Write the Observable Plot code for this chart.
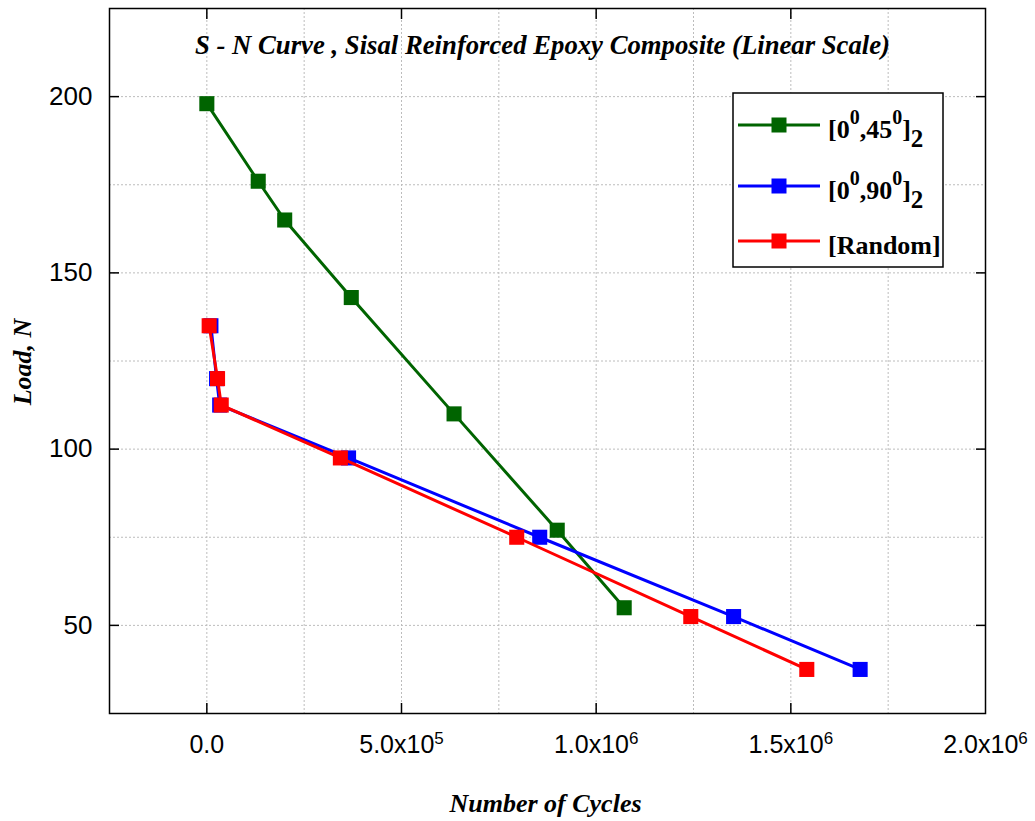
<!DOCTYPE html>
<html><head><meta charset="utf-8">
<script src="https://cdn.jsdelivr.net/npm/d3@7"></script>
<script src="https://cdn.jsdelivr.net/npm/@observablehq/plot@0.6"></script>
<style>
body{margin:0;background:#fff;}
#wrap{position:relative;width:1035px;height:821px;overflow:hidden;}
#wrap svg{overflow:visible;}
</style></head><body><div id="wrap"></div>
<script>
// ---- data ----
const seriesKeys = ["s45", "s90", "random"];
const seriesColors = ["#006400", "#0000ff", "#ff0000"];
const cycles45 = [0, 132000, 200000, 371000, 635000, 900000, 1072000];
const load45 = [198, 176, 165, 143, 110, 77, 55];
const cycles90 = [10500, 25000, 33000, 364000, 855000, 1353000, 1678000];
const load90 = [135, 120, 112.5, 97.5, 75, 52.5, 37.5];
const cyclesRandom = [6000, 27500, 37000, 343000, 796000, 1243000, 1541000];
const loadRandom = [135, 120, 112.5, 97.5, 75, 52.5, 37.5];
const xTicks = [0, 500000, 1000000, 1500000, 2000000];
const xTickLabels = ["0.0", "5.0x10^5", "1.0x10^6", "1.5x10^6", "2.0x10^6"];
const yTicks = [50, 100, 150, 200];
const xGrid = [0, 250000, 500000, 750000, 1000000, 1250000, 1500000, 1750000];
const yGrid = [50, 75, 100, 125, 150, 175, 200];
const titleText = "S - N Curve , Sisal Reinforced Epoxy Composite (Linear Scale)";
const xLabel = "Number of Cycles";
const yLabel = "Load, N";

const seriesData = [
  cycles45.map((c, i) => ({cycles: c, load: load45[i]})),
  cycles90.map((c, i) => ({cycles: c, load: load90[i]})),
  cyclesRandom.map((c, i) => ({cycles: c, load: loadRandom[i]}))
];

const serifB = "'Liberation Serif', 'Times New Roman', serif";
const gridStyle = {stroke: "#bcbcbc", strokeOpacity: 1, strokeDasharray: "2,2", strokeWidth: 1};

const seriesMarks = [];
seriesData.forEach((d, i) => {
  seriesMarks.push(Plot.line(d, {x: "cycles", y: "load", stroke: seriesColors[i], strokeWidth: 3}));
  seriesMarks.push(Plot.dot(d, {x: "cycles", y: "load", symbol: "square", r: 8.5, fill: seriesColors[i], stroke: "none"}));
});

const chart = Plot.plot({
  width: 1035, height: 821,
  marginLeft: 109, marginRight: 50, marginTop: 8, marginBottom: 108,
  x: {domain: [-250000, 2000000]},
  y: {domain: [25, 225]},
  style: {fontFamily: "'Liberation Sans', Arial, sans-serif", fontSize: "25px", color: "#000", background: "#fff"},
  marks: [
    Plot.gridX(xGrid, gridStyle),
    Plot.gridY(yGrid, gridStyle),
    Plot.axisX(xTicks, {anchor: "bottom", tickSize: 0, tickPadding: 22, label: null, fontSize: 25,
      tickFormat: d => xTickLabels[xTicks.indexOf(d)]}),
    Plot.axisY(yTicks, {anchor: "left", tickSize: 0, tickPadding: 17, label: null, fontSize: 26,
      tickFormat: d => String(d)}),
    Plot.axisX(xTicks.slice(0, 4), {anchor: "bottom", tickSize: -10, strokeWidth: 1.5, label: null, tickFormat: () => ""}),
    Plot.axisX(xTicks.slice(0, 4), {anchor: "top", tickSize: -10, strokeWidth: 1.5, label: null, tickFormat: () => ""}),
    Plot.axisY(yTicks, {anchor: "left", tickSize: -10, strokeWidth: 1.5, label: null, tickFormat: () => ""}),
    Plot.axisY(yTicks, {anchor: "right", tickSize: -10, strokeWidth: 1.5, label: null, tickFormat: () => ""}),
    ...seriesMarks,
    Plot.frame({stroke: "#000", strokeWidth: 1.5}),
    Plot.text([titleText], {text: d => d, frameAnchor: "top", lineAnchor: "middle", textAnchor: "middle",
      dy: 37, dx: -5, fontSize: 28, fontWeight: "bold", fontStyle: "italic", fontFamily: serifB}),
    Plot.text([xLabel], {text: d => d, frameAnchor: "bottom", lineAnchor: "middle", textAnchor: "middle",
      dy: 90, dx: -2, fontSize: 26, fontWeight: "bold", fontStyle: "italic", fontFamily: serifB}),
    Plot.text([yLabel], {text: d => d, frameAnchor: "left", lineAnchor: "middle", textAnchor: "middle",
      dx: -87, dy: 1, rotate: -90, fontSize: 26, fontWeight: "bold", fontStyle: "italic", fontFamily: serifB})
  ]
});

// superscripts in x tick labels; title fitted to its width
d3.select(chart).selectAll("text").each(function() {
  const t = this.textContent;
  if (t.includes("^") && t.includes("x10")) {
    const [base, exp] = t.split("^");
    const sel = d3.select(this);
    sel.text(null);
    sel.append("tspan").text(base);
    sel.append("tspan").attr("dy", -9).attr("font-size", 17).text(exp);
  } else if (t === titleText) {
    d3.select(this).attr("textLength", 695).attr("lengthAdjust", "spacingAndGlyphs");
  }
});

const wrap = document.getElementById("wrap");
wrap.appendChild(chart);

// legend overlay
const legendEntries = [
  {parts: [["[0", 0], ["0", 1], [",45", 0], ["0", 1], ["]", 0], ["2", -1]]},
  {parts: [["[0", 0], ["0", 1], [",90", 0], ["0", 1], ["]", 0], ["2", -1]]},
  {parts: [["[Random]", 0]]}
];
const legendRowY = [32, 93, 148];
const lg = d3.select(wrap).append("svg")
  .attr("width", 212).attr("height", 176)
  .style("position", "absolute").style("left", "732px").style("top", "92px");
lg.append("rect").attr("x", 1).attr("y", 1).attr("width", 210).attr("height", 174)
  .attr("fill", "#fff").attr("stroke", "#000").attr("stroke-width", 1.5);
legendEntries.forEach((e, i) => {
  const y = legendRowY[i] + 1;
  lg.append("line").attr("x1", 6).attr("x2", 88).attr("y1", y).attr("y2", y)
    .attr("stroke", seriesColors[i]).attr("stroke-width", 3);
  lg.append("rect").attr("x", 47 - 7.5).attr("y", y - 7.5).attr("width", 15).attr("height", 15)
    .attr("fill", seriesColors[i]);
  const t = lg.append("text").attr("x", 96).attr("y", y + 13)
    .attr("font-family", serifB).attr("font-weight", "bold").attr("font-size", 26).attr("fill", "#000");
  let shift = 0;
  e.parts.forEach(([s, kind]) => {
    const target = kind === 1 ? -14 : kind === -1 ? 9 : 0;
    t.append("tspan").attr("dy", target - shift).attr("font-size", kind === 1 ? 20 : kind === -1 ? 25 : 26).text(s);
    shift = target;
  });
});
</script></body></html>
